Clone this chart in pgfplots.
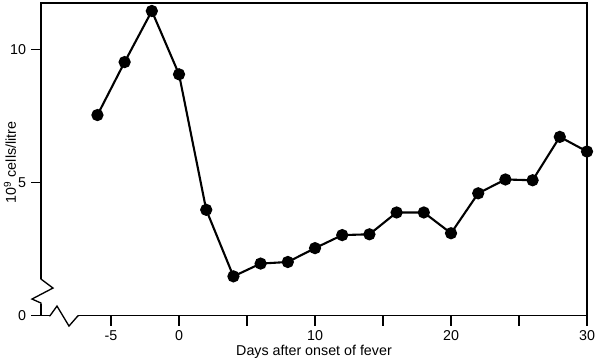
\documentclass[border=0pt]{standalone}
\usepackage{fontspec}
\setmainfont{Liberation Sans}
\usepackage{pgfplots}
\pgfplotsset{compat=1.18}
\begin{document}
\begin{tikzpicture}[font=\fontsize{10.2}{12}\selectfont]
\useasboundingbox (-29.286pt,-33.07pt) rectangle (398.57pt,225.54pt);
\begin{axis}[
  scale only axis, width=390pt, height=223.4pt,
  xmin=-10.15, xmax=30, ymin=0, ymax=11.75,
  axis line style={line width=0.95pt},
  xtick={-5,0,5,10,15,20,25,30},
  xticklabels={-5,0,,10,,20,,30},
  ytick={0,5,10},
  xtick pos=bottom, ytick pos=left,
  tick align=outside,
  major tick length=7.1pt,
  tick style={line width=0.95pt,black},
  /pgf/number format/assume math mode=true,
  xlabel={Days after onset of fever},
  ylabel={10\textsuperscript{9} cells/litre},
  every axis x label/.style={at={(axis description cs:0.5,-0.115)},anchor=center},
  every axis y label/.style={at={(axis description cs:-0.057,0.49)},anchor=center,rotate=90},
  clip=false,
]
\addplot[black, line width=1.5pt, mark=*, mark size=3.6pt, mark options={fill=black}] coordinates {
(-6,7.54) (-4,9.53) (-2,11.45) (0,9.07) (2,3.98) (4,1.48) (6,1.96) (8,2.02)
(10,2.54) (12,3.03) (14,3.06) (16,3.88) (18,3.88) (20,3.10) (22,4.60)
(24,5.12) (26,5.09) (28,6.72) (30,6.17)
};
\end{axis}
% axis breaks (coordinates in reference pixels)
\begin{scope}[shift={(-29.286pt,-33.07pt)},x=0.7143pt,y=0.7143pt]
\draw[white, line width=3pt] (41,83.5) -- (41,58.5);
\draw[white, line width=3pt] (49.5,46.3) -- (78.5,46.3);
\draw[black, line width=0.95pt, line join=miter] (41,84) -- (41,83) -- (53,74) -- (32,63) -- (41,59) -- (41,58);
\draw[black, line width=0.95pt, line join=miter] (49,46.3) -- (50,46.3) -- (57,56) -- (69,36) -- (78,46.3) -- (79,46.3);
\end{scope}
\end{tikzpicture}
\end{document}
